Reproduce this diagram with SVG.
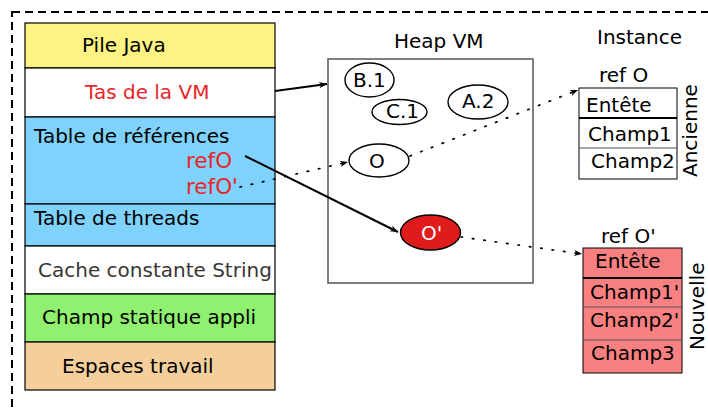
<svg xmlns="http://www.w3.org/2000/svg" width="708" height="410" viewBox="0 0 708 410">
<defs>
<marker id="ah" viewBox="0 0 10 10" refX="10" refY="5" markerWidth="10" markerHeight="8" markerUnits="userSpaceOnUse" orient="auto">
<path d="M0,1 L10,5 L0,9 L3,5 Z" fill="#000"/>
</marker>
<style>
text{font-family:"DejaVu Sans","Liberation Sans",sans-serif;font-size:20px;fill:#000}
.red{fill:#e8262a}
.cell{stroke:#000;stroke-width:1.2}
.dot{fill:none;stroke:#000;stroke-width:1.7;stroke-dasharray:1.5 10;stroke-linecap:round}
.ell{fill:#fff;stroke:#000;stroke-width:1.4}
</style>
</defs>
<rect width="708" height="410" fill="#fff"/>
<rect x="12" y="12" width="720" height="420" fill="none" stroke="#000" stroke-width="2" stroke-dasharray="8 5"/>

<g id="pile-java"><rect class="cell" x="25" y="23" width="250" height="45" fill="#fcf383"/><text x="82" y="52">Pile Java</text></g>
<g id="tas-vm"><rect class="cell" x="25" y="68" width="250" height="49" fill="#fff"/><text class="red" x="85" y="99">Tas de la VM</text></g>
<g id="table-refs"><rect class="cell" x="25" y="117" width="250" height="87" fill="#7fd2fb"/><text x="34" y="143">Table de références</text>
<text class="red" x="186" y="168" style="font-size:21.5px">refO</text><text class="red" x="186" y="194" style="font-size:21.5px">refO'</text></g>
<g id="table-threads"><rect class="cell" x="25" y="204" width="250" height="42" fill="#7fd2fb"/><text x="34" y="225">Table de threads</text></g>
<g id="cache"><rect class="cell" x="25" y="246" width="250" height="48" fill="#fff" stroke="#555"/><text x="38" y="277" style="fill:#3a3535">Cache constante String</text></g>
<g id="champ-statique"><rect class="cell" x="25" y="294" width="250" height="48" fill="#90f070"/><text x="42" y="324">Champ statique appli</text></g>
<g id="espaces"><rect class="cell" x="25" y="342" width="250" height="48" fill="#f5cf9b"/><text x="62" y="373">Espaces travail</text></g>

<g id="heap-vm"><text x="394" y="48">Heap VM</text><rect x="328" y="59" width="205" height="224" fill="#fff" stroke="#555" stroke-width="1.5"/></g>
<g id="b1"><ellipse class="ell" cx="369.5" cy="80" rx="24.5" ry="17"/><text x="353" y="87">B.1</text></g>
<g id="c1"><ellipse class="ell" cx="399.5" cy="112" rx="27.5" ry="12.5"/><text x="386" y="118">C.1</text></g>
<g id="a2"><ellipse class="ell" cx="478" cy="102" rx="30" ry="17"/><text x="462" y="108">A.2</text></g>
<g id="o"><ellipse class="ell" cx="379" cy="160.5" rx="30" ry="16.5"/><text x="369" y="168">O</text></g>
<g id="o-prime"><ellipse cx="430.5" cy="232.5" rx="30" ry="17.5" fill="#e01b1b" stroke="#000" stroke-width="1.4"/><text x="421" y="240" style="fill:#fff">O'</text></g>

<g id="instance-ancienne">
<text x="597" y="44">Instance</text>
<text x="599" y="82">ref O</text>
<rect x="579" y="88" width="98" height="91" fill="#fff" stroke="#000" stroke-width="1"/>
<line x1="579" y1="118" x2="677" y2="118" stroke="#000" stroke-width="2"/>
<line x1="579" y1="148" x2="677" y2="148" stroke="#555" stroke-width="1"/>
<text x="586" y="112">Entête</text>
<text x="588" y="141">Champ1</text>
<text x="591" y="168">Champ2</text>
<text transform="translate(697,177) rotate(-90)">Ancienne</text>
</g>

<g id="instance-nouvelle">
<text x="601" y="243">ref O'</text>
<rect x="583" y="248" width="99" height="125" fill="#f88080" stroke="#000" stroke-width="1"/>
<line x1="583" y1="278" x2="682" y2="278" stroke="#000" stroke-width="2"/>
<line x1="583" y1="307" x2="682" y2="307" stroke="#555" stroke-width="1"/>
<line x1="583" y1="340" x2="682" y2="340" stroke="#555" stroke-width="1"/>
<text x="595" y="268">Entête</text>
<text x="590" y="299">Champ1'</text>
<text x="590" y="327">Champ2'</text>
<text x="591" y="360">Champ3</text>
<text transform="translate(704,350) rotate(-90)">Nouvelle</text>
</g>

<g id="connectors">
<line x1="275" y1="91" x2="327" y2="84" stroke="#000" stroke-width="2" marker-end="url(#ah)"/>
<line x1="245" y1="156" x2="398" y2="232" stroke="#000" stroke-width="2" marker-end="url(#ah)"/>
<line class="dot" x1="240" y1="187" x2="348" y2="162" marker-end="url(#ah)"/>
<line class="dot" x1="410" y1="156" x2="578" y2="90" marker-end="url(#ah)"/>
<line class="dot" x1="461" y1="237" x2="582" y2="254" marker-end="url(#ah)"/>
</g>
</svg>
